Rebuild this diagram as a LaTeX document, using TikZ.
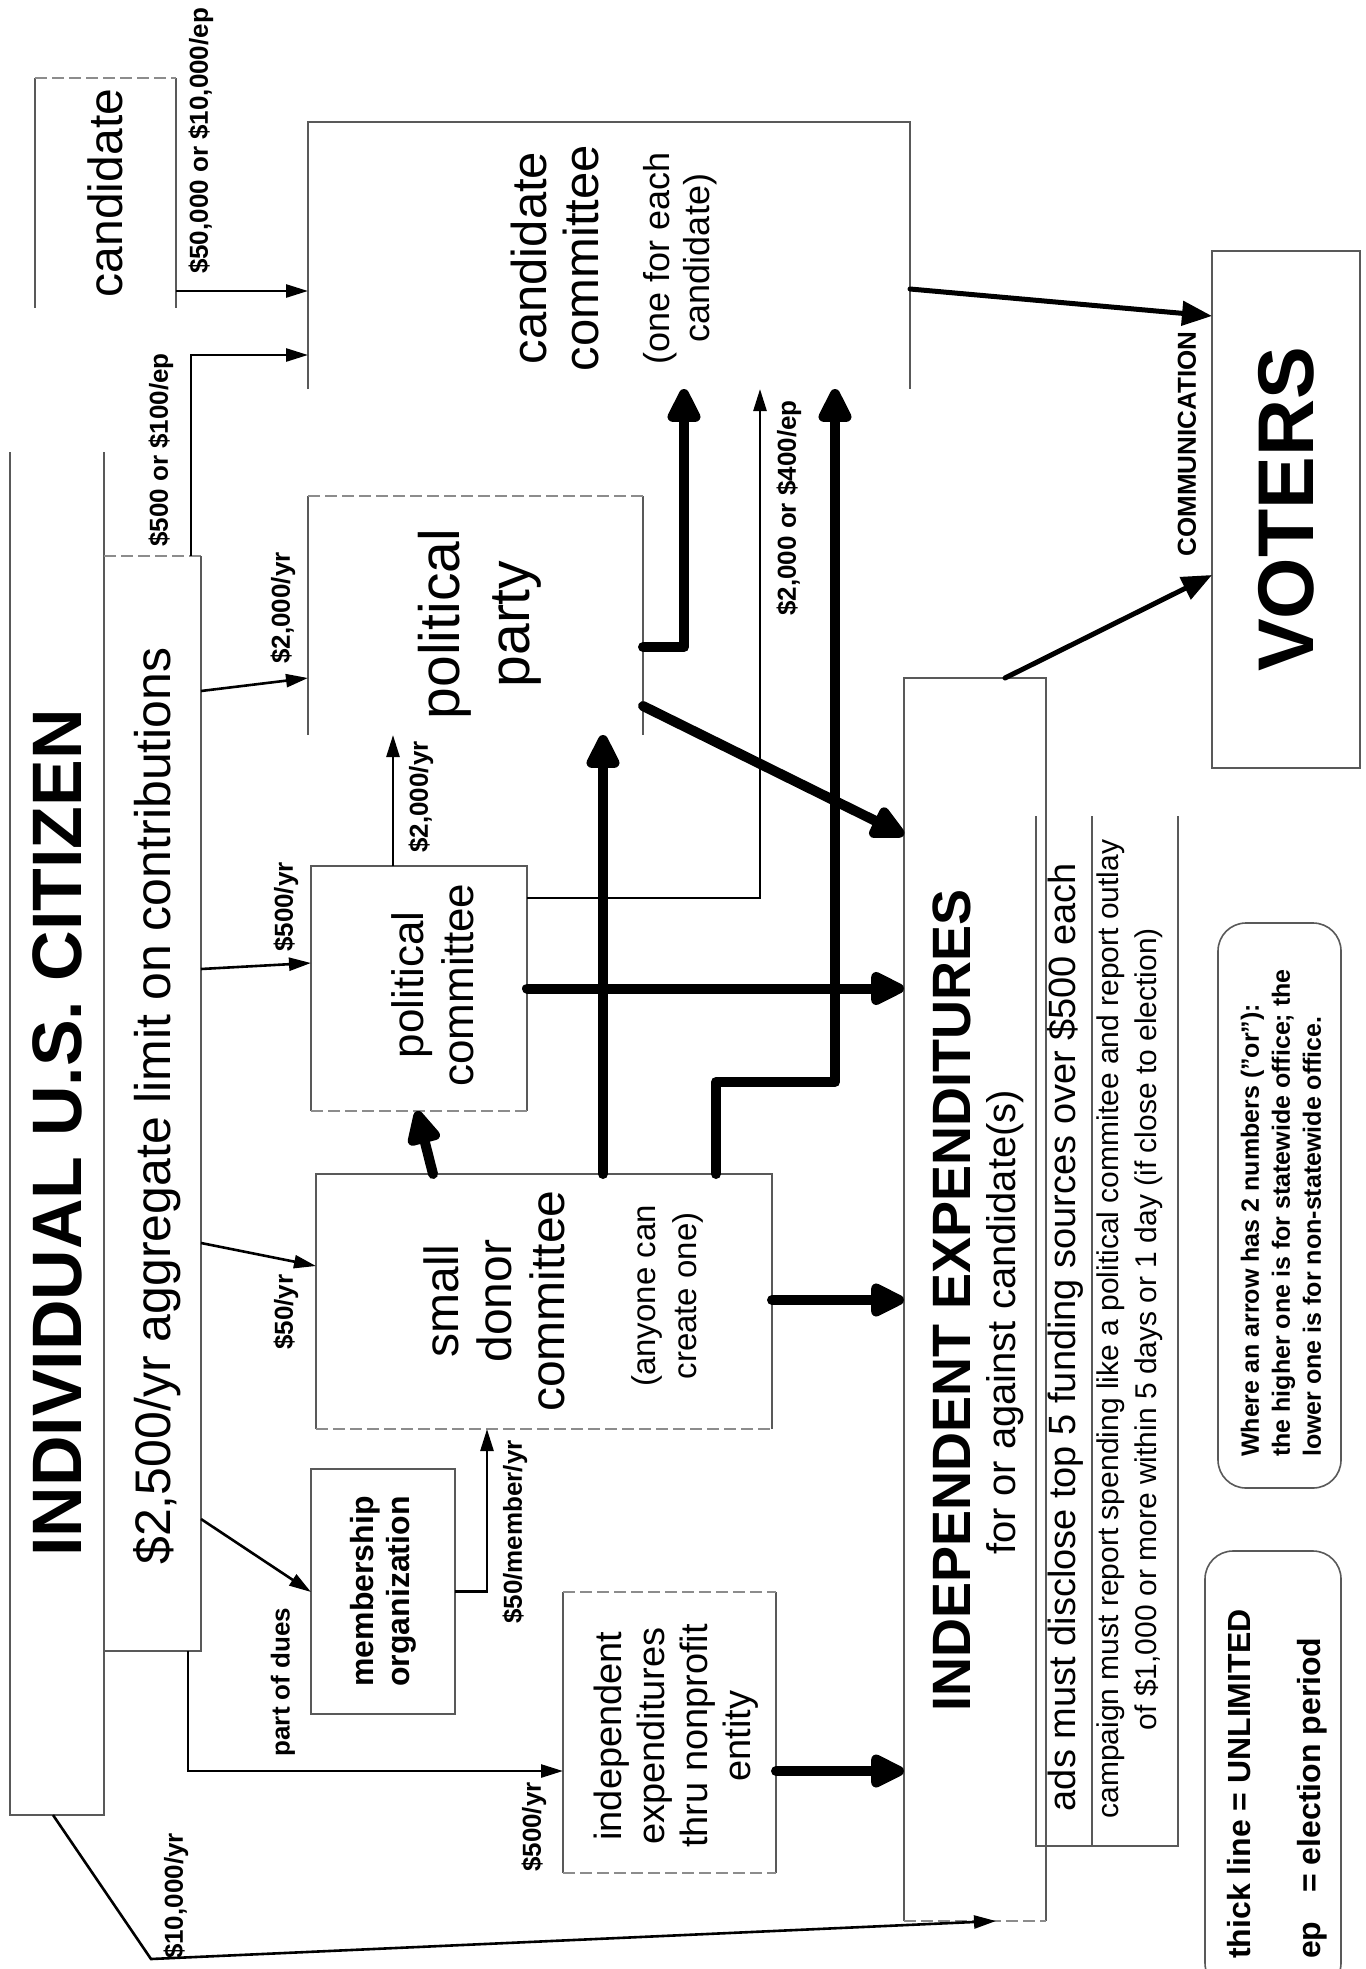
\documentclass[tikz,border=0pt]{standalone}
\usepackage{fontspec}
\setmainfont{Liberation Sans}
\usetikzlibrary{arrows.meta,calc}
\newcommand\myfs[2]{\fontsize{#1}{#2}\selectfont}
\begin{document}
\begin{tikzpicture}[x=1pt,y=-1pt,
  area/.style={draw=none,inner sep=0pt,outer sep=0pt,anchor=north west},
  edge/.style={draw=black!65,line width=1.6pt},
  faint/.style={draw=black!45,line width=1.3pt,dash pattern=on 12pt off 5pt},
  txt/.style={rotate=90,inner sep=0pt,align=center},
  lab/.style={rotate=90,inner sep=0pt,font=\bfseries\myfs{26}{30}},
  thin/.style={line width=2.6pt,-{Triangle[length=22pt,width=13pt]}},
  med/.style={line width=5pt,line cap=round,-{Triangle[length=30pt,width=24pt]}},
  thick/.style={line width=10pt,line cap=round,line join=round,-{Triangle[length=40pt,width=36pt,round]}},
  legbox/.style={area,draw=black!65,line width=1.6pt,rounded corners=28pt}
]
\useasboundingbox (0,0) rectangle (1365,1969);
\fill[white] (0,0) rectangle (1365,1969);
\clip (0,0) rectangle (1365,1969);

% ---------- boxes ----------
\node[area,minimum width=141pt,minimum height=230pt] (cand) at (35,78) {};
\node[area,minimum width=602pt,minimum height=267pt] (cc) at (308,122) {};
\node[area,minimum width=94pt,minimum height=1363pt] (cit) at (10,452) {};
\node[area,minimum width=97pt,minimum height=1095pt] (agg) at (104,556) {};
\node[area,minimum width=335pt,minimum height=239pt] (pp) at (308,496) {};
\node[area,minimum width=216pt,minimum height=245pt] (pc) at (311,866) {};
\node[area,minimum width=456pt,minimum height=255pt] (sd) at (316,1174) {};
\node[area,minimum width=144pt,minimum height=245pt] (mo) at (311,1469) {};
\node[area,minimum width=213pt,minimum height=281pt] (ien) at (563,1592) {};
\node[area,minimum width=142pt,minimum height=1243pt] (ie) at (904,678) {};
\node[area,minimum width=142pt,minimum height=1030pt] (disc) at (1036,816) {};
\node[area,minimum width=148pt,minimum height=517pt,draw=black!65,line width=1.6pt] (vot) at (1212,251) {};
\node[legbox,minimum width=136pt,minimum height=440pt] (leg1) at (1205,1551) {};
\node[legbox,minimum width=123pt,minimum height=565pt] (leg2) at (1218,923) {};

% ---------- box edges ----------
\draw[edge] (cand.north west) -- (cand.south west) (cand.north east) -- (cand.south east);
\draw[faint] (cand.north west) -- (cand.north east);
\draw[edge] (cc.south west) -- (cc.north west) -- (cc.north east) -- (cc.south east);
\draw[edge] (cit.north west) -- (cit.south west) -- (cit.south east) -- (cit.north east);
\draw[faint] (agg.north west) -- (agg.north east);
\draw[edge] (agg.north east) -- (agg.south east) -- (agg.south west);
\draw[edge] (pp.north west) -- (pp.south west) (pp.north east) -- (pp.south east);
\draw[faint] (pp.north west) -- (pp.north east);
\draw[edge] (pc.south west) -- (pc.north west) -- (pc.north east) -- (pc.south east);
\draw[faint] (pc.south west) -- (pc.south east);
\draw[edge] (sd.south west) -- (sd.north west) -- (sd.north east) -- (sd.south east);
\draw[faint] (sd.south west) -- (sd.south east);
\draw[edge] (mo.south west) rectangle (mo.north east);
\draw[edge] (ien.north west) -- (ien.south west) (ien.north east) -- (ien.south east);
\draw[faint] (ien.north west) -- (ien.north east) (ien.south west) -- (ien.south east);
\draw[edge] (ie.south west) -- (ie.north west) -- (ie.north east) -- (ie.south east);
\draw[faint] (ie.south west) -- (ie.south east);
\draw[edge] (disc.north west) -- (disc.south west) -- (disc.south east) -- (disc.north east);
\draw[edge] ([xshift=56pt]disc.north west) -- ([xshift=56pt]disc.south west);

% ---------- texts ----------
\node[txt,font=\myfs{48}{54}] (tcand) at (cand.center) {candidate};
\node[txt,font=\myfs{49}{52}] (tcc) at (555,258) {candidate\\committee};
\node[txt,font=\myfs{36}{40}] (tccs) at (680,258) {(one for each\\candidate)};
\node[txt,font=\bfseries\myfs{70}{80}] (tcit) at (57,1133) {INDIVIDUAL U.S. CITIZEN};
\node[txt,font=\myfs{50}{56}] (tagg) at (157,1106) {\$2,500/yr aggregate limit on contributions};
\node[txt,font=\myfs{57}{70}] (tpp) at (480,624) {political\\party};
\node[txt,font=\myfs{44}{50}] (tpc) at (433,985) {political\\committee};
\node[txt,font=\myfs{48}{53}] (tsd) at (494,1301) {small\\donor\\committee};
\node[txt,font=\myfs{33}{41}] (tsds) at (667,1296) {(anyone can\\create one)};
\node[txt,font=\bfseries\myfs{32}{36}] (tmo) at (mo.center) {membership\\organization};
\node[txt,font=\myfs{38}{43}] (tien) at (676,1736) {independent\\expenditures\\thru nonprofit\\entity};
\node[txt,font=\bfseries\myfs{54}{60}] (tie) at (952,1300) {INDEPENDENT EXPENDITURES};
\node[txt,font=\myfs{40}{46}] (ties) at (1005,1322) {for or against candidate(s)};
\node[txt,font=\myfs{38}{44}] (tdisc1) at (1065,1337) {ads must disclose top 5 funding sources over \$500 each};
\node[txt,font=\myfs{30}{38}] (tdisc2) at (1130,1329) {campaign must report spending like a political commitee and report outlay\\of \$1,000 or more within 5 days or 1 day (if close to election)};
\node[txt,font=\bfseries\myfs{79}{90}] (tvot) at (vot.center) {VOTERS};
\node[txt,anchor=west,font=\bfseries\myfs{32}{36}] (tleg1) at (1239,1959) {thick line = UNLIMITED};
\node[txt,anchor=west,font=\bfseries\myfs{32}{36}] (tleg2) at (1312,1959) {ep\hspace{0.9em}= election period};
\node[txt,anchor=west,align=left,font=\bfseries\myfs{25}{31}] (tleg3) at (1281,1457) {Where an arrow has 2 numbers ("or"):\\the higher one is for statewide office; the\\lower one is for non-statewide office.};

% ---------- labels ----------
\node[lab] (l1) at (201,141) {\$50,000 or \$10,000/ep};
\node[lab] (l2) at (161,450) {\$500 or \$100/ep};
\node[lab] (l3) at (283,608) {\$2,000/yr};
\node[lab] (l4) at (286,907) {\$500/yr};
\node[lab] (l5) at (286,1312) {\$50/yr};
\node[lab] (l6) at (283,1682) {part of dues};
\node[lab] (l7) at (515,1532) {\$50/member/yr};
\node[lab] (l8) at (534,1827) {\$500/yr};
\node[lab] (l9) at (176,1896) {\$10,000/yr};
\node[lab] (l10) at (421,797) {\$2,000/yr};
\node[lab] (l11) at (789,508) {\$2,000 or \$400/ep};
\node[lab] (l12) at (1187,444) {COMMUNICATION};

% ---------- connectors ----------
\coordinate (a1) at ([yshift=17pt]cand.south east);
\draw[thin] (a1) -- (a1 -| cc.west);
\coordinate (a2) at ([xshift=-10pt]agg.north east);
\coordinate (a2e) at ([yshift=-233pt]cc.north west);
\draw[thin] (a2) |- (a2e);
\draw[thin] ([yshift=-135pt]agg.north east) -- ([yshift=-182pt]pp.north west);
\draw[thin] ([yshift=-413pt]agg.north east) -- ([yshift=-97pt]pc.north west);
\draw[thin] ([yshift=-687pt]agg.north east) -- ([yshift=-92pt]sd.north west);
\draw[thin] ([yshift=-963pt]agg.north east) -- ([yshift=-123pt]mo.north west);
\draw[thin] ([xshift=-13pt]agg.south east) |- ([yshift=-179pt]ien.north west);
\coordinate (b10) at (151,1959);
\draw[thin] ([xshift=43pt]cit.south west) -- (b10) -- ([xshift=92pt]ie.south west);
\draw[thin] (mo.east) -| ([xshift=171pt]sd.south west);
\coordinate (a10) at ([xshift=82pt]pc.north west);
\draw[thin] (a10) -- (a10 |- pp.south);
\draw[thin] ([yshift=-32pt]pc.north east) -| ([xshift=452pt]cc.south west);

\draw[thick] ([xshift=117pt]sd.north west) -- ([xshift=106pt]pc.south west);
\coordinate (a12) at ([xshift=287pt]sd.north west);
\draw[thick] (a12) -- (a12 |- pp.south);
\draw[thick] ([xshift=400pt]sd.north west) -- ++(0,-92) -| ([xshift=527pt]cc.south west);
\coordinate (a14) at ([yshift=-126pt]sd.north east);
\draw[thick] (a14) -- (a14 -| ie.west);
\draw[thick] (pc.east) -- (pc.east -| ie.west);
\draw[thick] ([yshift=-151pt]pp.north east) -| ([xshift=376pt]cc.south west);
\draw[thick] ([yshift=-210pt]pp.north east) -- ([yshift=-157pt]ie.north west);
\coordinate (a19) at ([yshift=-179pt]ien.north east);
\draw[thick] (a19) -- (a19 -| ie.west);

\draw[med] ([yshift=-167pt]cc.north east) -- ([yshift=-65pt]vot.north west);
\draw[med] ([xshift=101pt]ie.north west) -- ([yshift=-324pt]vot.north west);
\end{tikzpicture}
\end{document}
